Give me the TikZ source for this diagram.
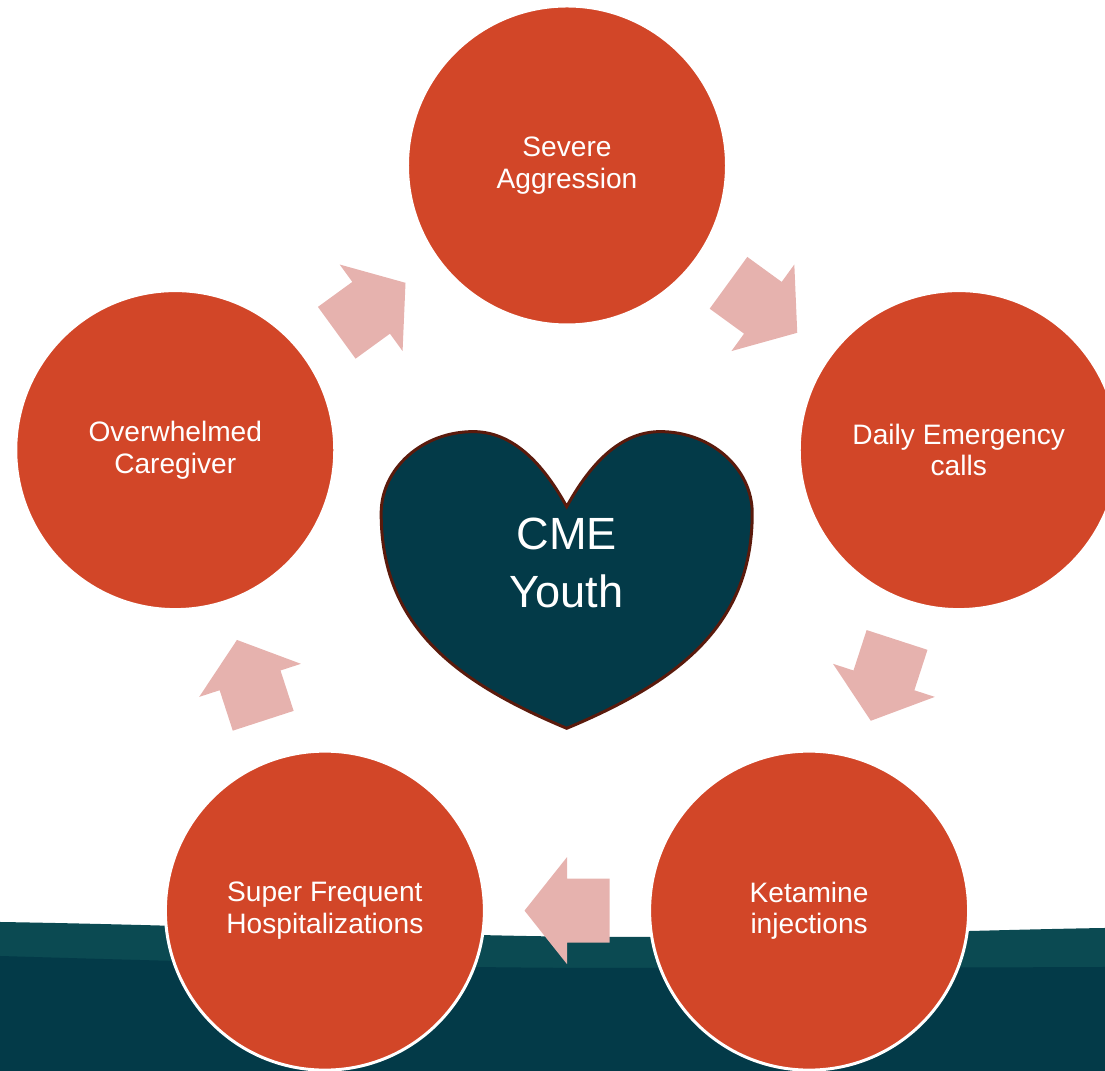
\documentclass[tikz,border=0pt]{standalone}
\usepackage{fontspec}
\setmainfont{Liberation Sans}
\usetikzlibrary{calc}
\definecolor{rust}{HTML}{D24628}
\definecolor{blush}{HTML}{E6B2AE}
\definecolor{deepteal}{HTML}{033A48}
\definecolor{midteal}{HTML}{0B4A52}
\definecolor{darkbrown}{HTML}{5A1A0C}
\tikzset{
  stage/.style={circle, fill=rust, draw=white, line width=1.7pt, minimum size=6.38cm,
    inner sep=0pt, text=white, align=center, font=\fontsize{16}{17.8}\selectfont},
  cyclearrow/.style={fill=blush},
  heart/.style={fill=deepteal, draw=darkbrown, line width=1.7pt},
  core/.style={text=white, align=center, inner sep=0pt, font=\fontsize{25.7}{33}\selectfont}
}
\begin{document}
\begin{tikzpicture}
  \useasboundingbox (0,0) rectangle (22.1,21.42);
  \clip (0,0) rectangle (22.1,21.42);
  % ground band
  \fill[midteal] (0,2.98) .. controls (5,2.9) and (9,2.68) .. (12.5,2.68)
    .. controls (16,2.68) and (19.5,2.82) .. (22.1,2.86) -- (22.1,0) -- (0,0) -- cycle;
  \fill[deepteal] (0,2.3) .. controls (5,2.15) and (9,2.06) .. (12.5,2.06)
    .. controls (16,2.06) and (19.5,2.07) .. (22.1,2.08) -- (22.1,0) -- (0,0) -- cycle;
  % the five stages
  \begin{scope}[shift={(11.34,9.872)}]
    \node[stage] (S) at (90:8.238) {Severe\\Aggression};
    \node[stage] (D) at (18:8.238) {Daily Emergency\\calls};
    \node[stage] (K) at (-54:8.238) {Ketamine\\injections};
    \node[stage] (H) at (-126:8.238) {Super Frequent\\Hospitalizations};
    \node[stage] (O) at (162:8.238) {Overwhelmed\\Caregiver};
  \end{scope}
  % block arrows between stages
  \foreach \p/\q/\a in {O/S/36, S/D/-36, D/K/-108, K/H/180, H/O/108}
    \fill[cyclearrow, shift={($(\p)!0.5!(\q)$)}, rotate=\a]
      (-0.85,-0.64) -- (0,-0.64) -- (0,-1.07) -- (0.85,0) -- (0,1.07) -- (0,0.64) -- (-0.85,0.64) -- cycle;
  % heart
  \begin{scope}[shift={(11.334,6.854)}, x=0.02cm, y=0.02cm]
    \draw[heart] (0,0) .. controls (-115,48) and (-185.5,105) .. (-185.5,215)
      .. controls (-185.5,260) and (-144,296.6) .. (-93.5,296.6)
      .. controls (-50,296.6) and (-20,258) .. (0,221.6)
      .. controls (20,258) and (50,296.6) .. (93.5,296.6)
      .. controls (144,296.6) and (185.5,260) .. (185.5,215)
      .. controls (185.5,105) and (115,48) .. (0,0) -- cycle;
    \node[core] (Y) at (0,165) {CME\\Youth};
  \end{scope}
\end{tikzpicture}
\end{document}
